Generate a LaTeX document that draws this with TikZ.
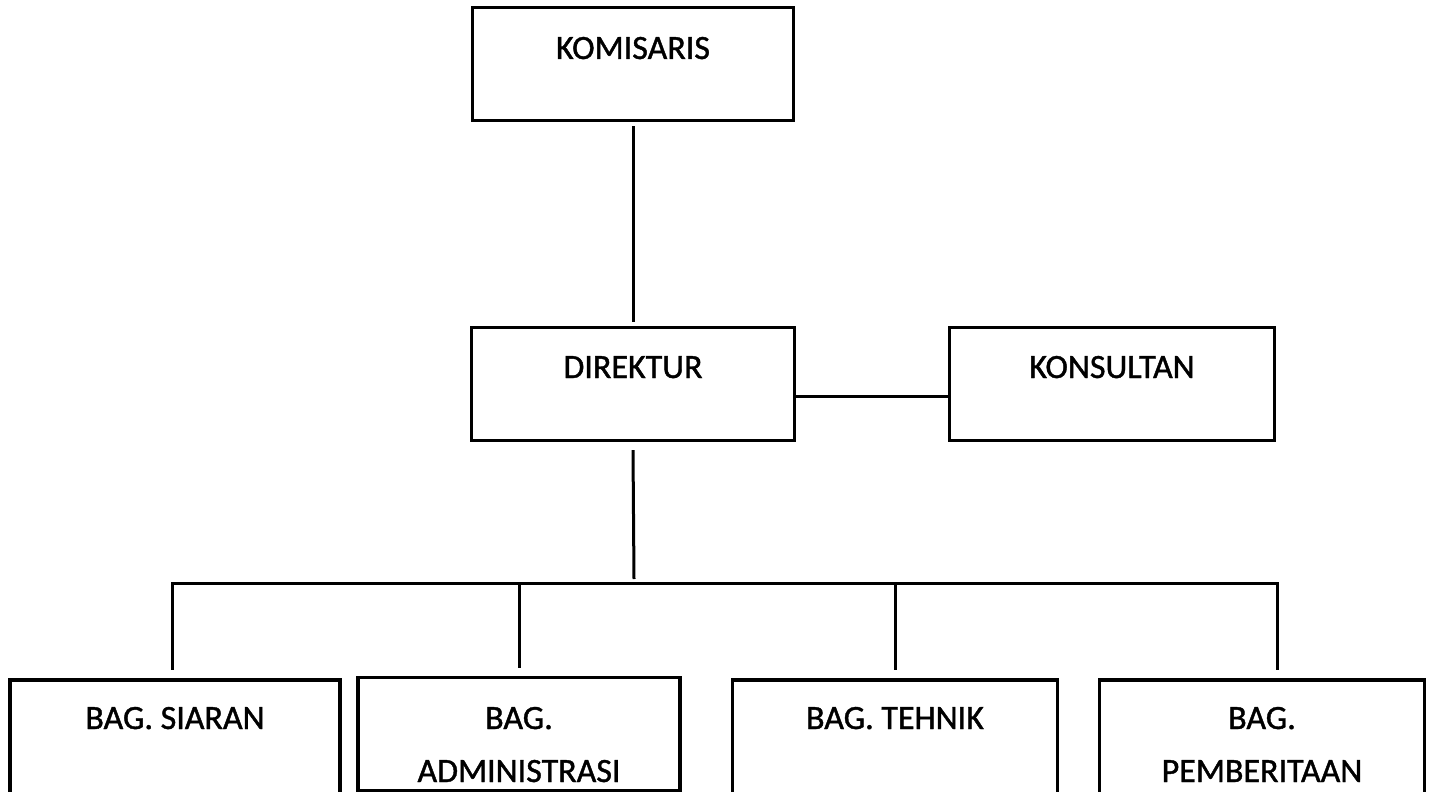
\documentclass[tikz,border=0pt]{standalone}
\usepackage{fontspec}
\setmainfont{Carlito}
\newfontfamily\lblfont{Carlito}[FakeBold=1.2]
\begin{document}
\begin{tikzpicture}[x=1pt,y=-1pt,
  box/.style={draw, line width=3.2pt, minimum width=#1, minimum height=113pt, inner sep=0pt},
  lbl/.style={font=\lblfont\fontsize{34}{40}\selectfont, inner sep=0pt, anchor=base},
  conn/.style={line width=3pt}]
\useasboundingbox (0,0) rectangle (1436,792);
% boxes
\node[box=321pt] (komisaris) at (633,64) {};
\node[box=323pt] (direktur) at (633,384) {};
\node[box=325pt] (konsultan) at (1112,384) {};
\node[box=330pt, minimum height=130pt] (siaran) at (175,745) {};
\node[box=322pt, minimum height=113pt] (admin) at (519,734) {};
\node[box=325pt, minimum height=130pt] (tehnik) at (895,745) {};
\node[box=325pt, minimum height=130pt] (pemb) at (1262,745) {};
% labels
\node[lbl] (t1) at (633,59) {KOMISARIS};
\node[lbl] (t2) at (633,378) {DIREKTUR};
\node[lbl] (t3) at (1112,378) {KONSULTAN};
\node[lbl] (t4) at (175,729) {BAG. SIARAN};
\node[lbl] (t5) at (519,729) {BAG.};
\node[lbl] (t6) at (519,782) {ADMINISTRASI};
\node[lbl] (t7) at (895,729) {BAG. TEHNIK};
\node[lbl] (t8) at (1262,729) {BAG.};
\node[lbl] (t9) at (1262,782) {PEMBERITAAN};
% connectors
\coordinate (bus) at (634,583);
\coordinate (busL) at (172,583);
\coordinate (busR) at (1277,583);
\draw[conn] ([yshift=-4pt]komisaris.south) -- ([yshift=4pt]direktur.north);
\draw[conn] ([yshift=-12pt]direktur.east) -- ([yshift=-12pt]konsultan.west);
\draw[conn] ([yshift=-8pt]direktur.south) -- ([yshift=4pt]bus);
\draw[conn, line cap=rect] (busL) -- (busR);
\draw[conn] (busL) -- ([yshift=8pt]busL |- siaran.north);
\draw[conn] (bus -| admin.north) -- ([yshift=8pt]admin.north);
\draw[conn] (bus -| tehnik.north) -- ([yshift=8pt]tehnik.north);
\draw[conn] (busR) -- ([yshift=8pt]busR |- pemb.north);
\end{tikzpicture}
\end{document}
